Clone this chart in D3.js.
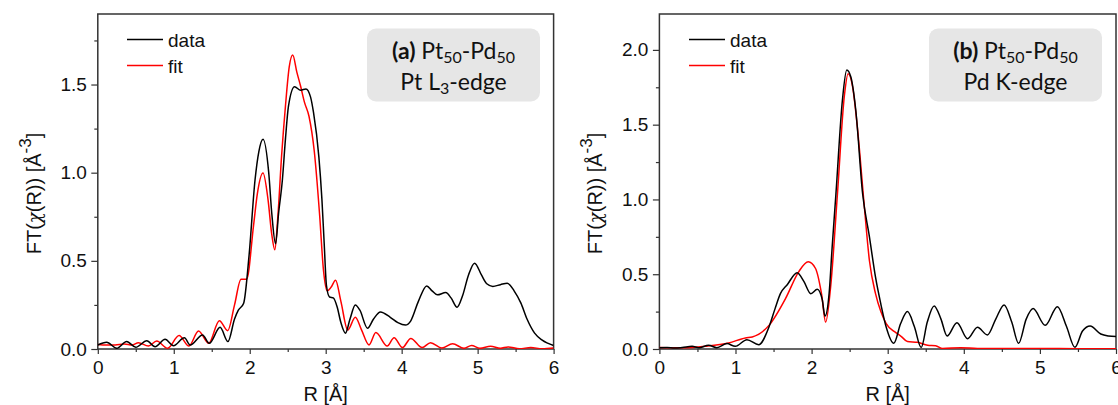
<!DOCTYPE html>
<html>
<head>
<meta charset="utf-8">
<title>FT chi(R) Pt50-Pd50</title>
<script src="https://d3js.org/d3.v7.min.js"></script>
<style>
  body { margin: 0; background: #fff; }
  text { font-family: "Liberation Sans", Arial, sans-serif; }
</style>
</head>
<body>
<script>
// tick labels
var xTicks = [0, 1, 2, 3, 4, 5, 6];
var xMinor = [0.5, 1.5, 2.5, 3.5, 4.5, 5.5];
var yTicks = [0, 0.5, 1.0, 1.5, 2.0];
var yMinor = [0.25, 0.75, 1.25, 1.75, 2.25];

// (a) Pt L3-edge : data
var aDataR = [0, 0.117, 0.249, 0.38, 0.50, 0.645, 0.754, 0.886, 0.996, 1.14, 1.216, 1.379, 1.467, 1.61, 1.713, 1.80, 1.85, 1.92, 1.99, 2.07, 2.12, 2.175, 2.25, 2.29, 2.34, 2.38, 2.43, 2.47, 2.51, 2.59, 2.67, 2.74, 2.80, 2.84, 2.91, 2.95, 2.98, 3.01, 3.05, 3.10, 3.15, 3.20, 3.26, 3.32, 3.39, 3.45, 3.55, 3.63, 3.72, 3.85, 3.95, 4.05, 4.12, 4.22, 4.33, 4.40, 4.47, 4.58, 4.65, 4.73, 4.80, 4.88, 4.96, 5.05, 5.12, 5.20, 5.30, 5.39, 5.48, 5.57, 5.65, 5.75, 5.85, 6.0];
var aDataY = [0.023, 0.038, 0.004, 0.042, 0.010, 0.047, 0.013, 0.055, 0.019, 0.064, 0.023, 0.080, 0.032, 0.123, 0.042, 0.17, 0.22, 0.26, 0.525, 0.96, 1.12, 1.19, 1.00, 0.77, 0.597, 0.77, 0.96, 1.19, 1.377, 1.487, 1.468, 1.475, 1.43, 1.34, 1.09, 0.85, 0.60, 0.36, 0.295, 0.29, 0.24, 0.15, 0.09, 0.17, 0.25, 0.22, 0.118, 0.17, 0.21, 0.18, 0.15, 0.136, 0.16, 0.27, 0.358, 0.33, 0.307, 0.32, 0.29, 0.237, 0.30, 0.42, 0.487, 0.42, 0.37, 0.355, 0.365, 0.373, 0.33, 0.26, 0.17, 0.09, 0.05, 0.02];

// (a) Pt L3-edge : fit
var aFitR = [0, 0.12, 0.23, 0.35, 0.45, 0.535, 0.666, 0.776, 0.92, 1.07, 1.20, 1.326, 1.46, 1.60, 1.71, 1.80, 1.885, 1.96, 2.05, 2.10, 2.175, 2.24, 2.29, 2.33, 2.37, 2.42, 2.47, 2.52, 2.566, 2.62, 2.67, 2.72, 2.78, 2.85, 2.92, 2.97, 3.02, 3.07, 3.13, 3.20, 3.29, 3.39, 3.47, 3.57, 3.66, 3.81, 3.90, 4.01, 4.12, 4.27, 4.38, 4.53, 4.67, 4.82, 4.92, 5.03, 5.17, 5.30, 5.40, 5.55, 5.70, 5.85, 6.0];
var aFitY = [0.025, 0.022, 0.023, 0.028, 0.022, 0.036, 0.017, 0.045, 0.004, 0.076, 0.017, 0.102, 0.032, 0.16, 0.104, 0.25, 0.396, 0.396, 0.70, 0.88, 0.998, 0.85, 0.65, 0.5625, 0.75, 1.10, 1.377, 1.60, 1.667, 1.57, 1.49, 1.40, 1.32, 1.12, 0.76, 0.45, 0.33, 0.35, 0.39, 0.27, 0.108, 0.18, 0.11, 0.023, 0.093, 0.017, 0.064, 0.008, 0.06, 0.008, 0.036, 0.006, 0.03, 0.004, 0.02, 0.004, 0.015, 0.004, 0.012, 0.002, 0.008, 0.002, 0.006];

// (b) Pd K-edge : data
var bDataR = [0, 0.1, 0.2, 0.3, 0.43, 0.52, 0.646, 0.755, 0.887, 0.997, 1.15, 1.305, 1.44, 1.52, 1.59, 1.68, 1.81, 1.90, 1.99, 2.075, 2.14, 2.176, 2.23, 2.27, 2.32, 2.405, 2.462, 2.515, 2.58, 2.67, 2.76, 2.84, 2.91, 2.98, 3.08, 3.17, 3.26, 3.35, 3.44, 3.52, 3.61, 3.70, 3.78, 3.91, 4.05, 4.18, 4.31, 4.42, 4.53, 4.63, 4.72, 4.82, 4.91, 5.07, 5.23, 5.35, 5.46, 5.56, 5.66, 5.80, 5.90, 6.0];
var bDataY = [0.008, 0.010, 0.006, 0.010, 0.018, 0.008, 0.025, 0.009, 0.036, 0.018, 0.0625, 0.029, 0.147, 0.27, 0.37, 0.43, 0.51, 0.45, 0.37, 0.40, 0.33, 0.22, 0.37, 0.68, 1.04, 1.665, 1.866, 1.82, 1.60, 1.04, 0.75, 0.48, 0.30, 0.147, 0.038, 0.17, 0.25, 0.15, 0.01, 0.18, 0.288, 0.20, 0.087, 0.176, 0.069, 0.145, 0.094, 0.20, 0.295, 0.18, 0.038, 0.20, 0.27, 0.158, 0.283, 0.15, 0.011, 0.12, 0.154, 0.10, 0.087, 0.083];

// (b) Pd K-edge : fit
var bFitR = [0, 0.3, 0.6, 0.91, 1.13, 1.22, 1.44, 1.66, 1.83, 1.956, 2.05, 2.13, 2.185, 2.25, 2.34, 2.43, 2.48, 2.54, 2.60, 2.69, 2.76, 2.84, 2.91, 2.98, 3.09, 3.18, 3.26, 3.39, 3.525, 3.63, 3.72, 3.96, 4.18, 4.5, 5.0, 5.5, 6.0];
var bFitY = [0.010, 0.008, 0.018, 0.040, 0.074, 0.080, 0.158, 0.34, 0.516, 0.583, 0.54, 0.37, 0.18, 0.415, 1.04, 1.69, 1.84, 1.75, 1.49, 0.97, 0.59, 0.37, 0.25, 0.17, 0.116, 0.083, 0.05, 0.045, 0.025, 0.022, 0.003, 0.009, 0.004, 0.003, 0.004, 0.002, 0.002];

var W = 1118, H = 405;
var svg = d3.select("body").append("svg")
    .attr("width", W)
    .attr("height", H);

drawPanel({
  id: "a", left: 97.8, right: 553.6, yMax: 1.9,
  dataR: aDataR, dataY: aDataY, fitR: aFitR, fitY: aFitY,
  tag: "(a)", edge: ["Pt L", "3", "-edge"],
  box: [367, 28.5, 173, 73], legX: 127
});
drawPanel({
  id: "b", left: 659.4, right: 1116, yMax: 2.24,
  dataR: bDataR, dataY: bDataY, fitR: bFitR, fitY: bFitY,
  tag: "(b)", edge: ["Pd K-edge"],
  box: [929, 28.5, 173, 73], legX: 689
});

function drawPanel(p)
{
  var top = 14, bottom = 349;
  var x = d3.scaleLinear().domain([0, 6]).range([p.left, p.right]);
  var y = d3.scaleLinear().domain([0, p.yMax]).range([bottom, top]);
  var g = svg.append("g");

  //clip for curves
  svg.append("clipPath").attr("id", "clip" + p.id)
    .append("rect").attr("x", p.left).attr("y", top)
    .attr("width", p.right - p.left).attr("height", bottom - top);

  //axes
  g.append("g").attr("transform", "translate(0," + bottom + ")")
    .call(d3.axisBottom(x).tickValues(xTicks).tickSize(5).tickPadding(7).tickFormat(d3.format("d")));
  g.append("g").attr("transform", "translate(0," + bottom + ")")
    .call(d3.axisBottom(x).tickValues(xMinor).tickSize(3).tickFormat(""));
  g.append("g").attr("transform", "translate(" + p.left + ",0)")
    .call(d3.axisLeft(y).tickValues(yTicks.filter(function(v){ return v <= p.yMax; }))
      .tickSize(6.5).tickPadding(4.5).tickFormat(d3.format(".1f")));
  g.append("g").attr("transform", "translate(" + p.left + ",0)")
    .call(d3.axisLeft(y).tickValues(yMinor.filter(function(v){ return v <= p.yMax; }))
      .tickSize(3.5).tickFormat(""));
  g.selectAll(".domain").remove();
  g.selectAll(".tick line").attr("stroke", "#333").attr("stroke-width", 1.2);
  g.selectAll(".tick text").attr("font-size", 19).attr("fill", "#111")
    .attr("font-family", "Liberation Sans, Arial, sans-serif");

  //frame
  g.append("rect").attr("x", p.left).attr("y", top)
    .attr("width", p.right - p.left).attr("height", bottom - top)
    .attr("fill", "none").attr("stroke", "#333").attr("stroke-width", 1.5);

  //axis titles
  g.append("text").attr("x", (p.left + p.right) / 2).attr("y", 401)
    .attr("text-anchor", "middle").attr("font-size", 20).attr("fill", "#111")
    .text("R [Å]");
  var yt = g.append("text")
    .attr("transform", "translate(" + (p.left - 57) + "," + ((top + bottom) / 2 + 12) + ") rotate(-90)")
    .attr("text-anchor", "middle").attr("font-size", 20).attr("fill", "#111");
  yt.append("tspan").text("FT(");
  yt.append("tspan").attr("font-family", "DejaVu Serif, serif").attr("font-style", "italic").attr("font-size", 18).text("χ");
  yt.append("tspan").text("(R)) [Å");
  yt.append("tspan").attr("dy", -10).attr("font-size", 17).text("-3");
  yt.append("tspan").attr("dy", 10).text("]");

  //curves
  var line = d3.line()
    .x(function(d){ return x(d[0]); })
    .y(function(d){ return y(d[1]); })
    .curve(d3.curveMonotoneX);
  var fit = p.fitR.map(function(r, i){ return [r, p.fitY[i]]; });
  var dat = p.dataR.map(function(r, i){ return [r, p.dataY[i]]; });
  g.append("path").datum(fit).attr("d", line).attr("clip-path", "url(#clip" + p.id + ")")
    .attr("fill", "none").attr("stroke", "#ff0000").attr("stroke-width", 1.5);
  g.append("path").datum(dat).attr("d", line).attr("clip-path", "url(#clip" + p.id + ")")
    .attr("fill", "none").attr("stroke", "#000").attr("stroke-width", 1.5);

  //legend
  var leg = [["data", "#000", 39.5], ["fit", "#ff0000", 65.5]];
  leg.forEach(function(l){
    g.append("line").attr("x1", p.legX).attr("x2", p.legX + 36)
      .attr("y1", l[2]).attr("y2", l[2]).attr("stroke", l[1]).attr("stroke-width", 1.5);
    g.append("text").attr("x", p.legX + 41).attr("y", l[2] + 7)
      .attr("font-size", 19).attr("fill", "#111").text(l[0]);
  });

  //label box
  var b = p.box;
  g.append("rect").attr("x", b[0]).attr("y", b[1]).attr("width", b[2]).attr("height", b[3])
    .attr("rx", 9).attr("fill", "#e6e6e6");
  var cx = b[0] + b[2] / 2;
  var t1 = g.append("text").attr("x", cx).attr("y", b[1] + 30)
    .attr("text-anchor", "middle").attr("font-size", 23).attr("fill", "#111")
    .style("font-family", "Lato, 'Open Sans', sans-serif");
  t1.append("tspan").attr("font-weight", "bold").text(p.tag + " ");
  t1.append("tspan").text("Pt");
  t1.append("tspan").attr("font-size", 16).attr("dy", 4).text("50");
  t1.append("tspan").attr("dy", -4).text("-Pd");
  t1.append("tspan").attr("font-size", 16).attr("dy", 4).text("50");
  var t2 = g.append("text").attr("x", cx).attr("y", b[1] + 61)
    .attr("text-anchor", "middle").attr("font-size", 23).attr("fill", "#111")
    .style("font-family", "Lato, 'Open Sans', sans-serif");
  t2.append("tspan").text(p.edge[0]);
  if (p.edge.length > 1) {
    t2.append("tspan").attr("font-size", 16).attr("dy", 4).text(p.edge[1]);
    t2.append("tspan").attr("dy", -4).text(p.edge[2]);
  }
}
</script>
</body>
</html>
